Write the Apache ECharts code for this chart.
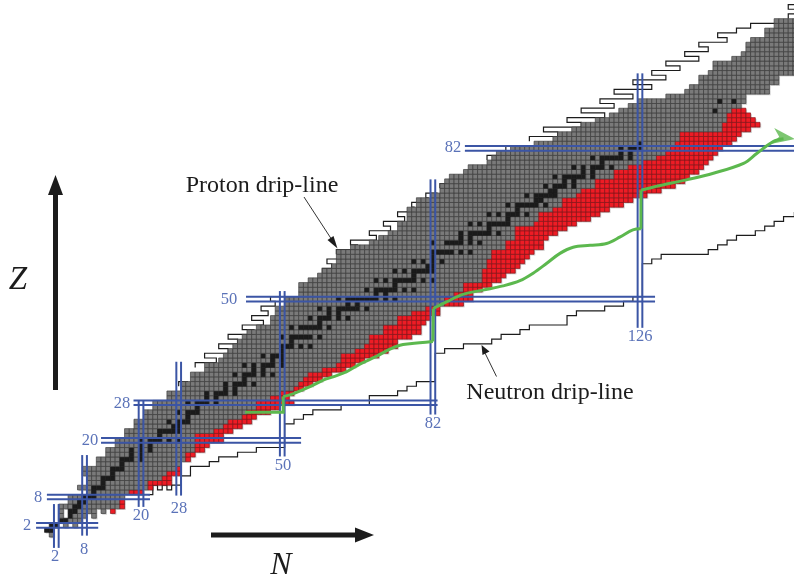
<!DOCTYPE html>
<html>
<head>
<meta charset="utf-8">
<style>html,body{margin:0;padding:0;background:#fff}#c{width:794px;height:581px}</style>
<script src="https://cdn.jsdelivr.net/npm/echarts@6/dist/echarts.min.js"></script>
</head>
<body>
<div id="c"></div>
<script>
// Each row: [Z, first N, last N, first red N (or null)]
const nuclideRows = [
[0,1,1,null],[1,0,1,null],[2,1,6,null],[3,3,7,null],[4,3,10,null],[5,3,14,14],[6,3,16,16],[7,5,16,16],[8,5,16,null],
[9,9,20,18],[10,7,22,22],[11,9,26,22],[12,9,26,25],[13,8,28,26],[14,8,28,28],[15,11,28,null],[16,11,30,30],[17,13,31,30],
[18,13,33,32],[19,15,34,32],[20,15,37,32],[21,17,37,32],[22,17,39,36],[23,19,41,38],[24,19,43,39],[25,21,44,42],
[26,21,47,43],[27,23,49,45],[28,23,52,45],[29,26,51,48],[30,26,52,50],[31,29,54,53],[32,29,56,54],[33,31,58,55],
[34,31,60,56],[35,34,63,59],[36,34,65,62],[37,37,67,63],[38,38,70,63],[39,39,72,66],[40,40,74,68],[41,41,74,69],
[42,42,77,69],[43,43,79,72],[44,45,79,72],[45,48,80,75],[46,48,81,75],[47,49,83,78],[48,49,83,81],[49,51,88,85],
[50,51,90,85],[51,54,90,87],[52,54,92,89],[53,54,94,89],[54,56,96,93],[55,58,97,93],[56,59,99,93],[57,61,100,94],
[58,62,101,94],[59,62,102,95],[60,62,103,95],[61,65,105,98],[62,69,105,98],[63,71,106,100],[64,73,108,100],[65,75,110,100],
[66,75,112,104],[67,77,115,105],[68,77,117,105],[69,77,119,108],[70,79,122,110],[71,79,124,110],[72,82,127,113],[73,84,130,114],
[74,84,133,117],[75,85,135,117],[76,86,136,121],[77,89,138,121],[78,90,139,124],[79,94,140,127],[80,95,141,130],[81,96,142,132],
[82,99,143,133],[83,104,145,134],[84,108,146,135],[85,109,147,135],[86,112,149,144],[87,114,151,144],[88,117,150,145],[89,120,149,145],
[90,122,148,146],[91,124,147,null],[92,126,148,null],[93,132,148,null],[94,136,153,null],[95,137,153,null],[96,139,155,null],[97,139,155,null],
[98,141,159,null],[99,142,159,null],[100,142,159,null],[101,146,159,null],[102,148,159,null],[103,149,159,null],[104,149,159,null],[105,150,159,null],
[106,153,159,null],[107,153,159,null],[108,155,159,null],[109,155,159,null]
];
// Cells left empty inside a row: [N, Z]
const emptyCells = [[3,2],[5,2],[4,4],[9,4],[4,5],[11,5],[13,5]];
// Stable nuclides: Z -> list of N
const stableNuclides = {
1:[0,1],2:[1,2],3:[3,4],4:[5],5:[5,6],6:[6,7],7:[7,8],8:[8,9,10],9:[10],10:[10,11,12],11:[12],12:[12,13,14],13:[14],14:[14,15,16],15:[16],
16:[16,17,18,20],17:[18,20],18:[18,20,22],19:[20,22],20:[20,22,23,24,26,28],21:[24],22:[24,25,26,27,28],23:[27,28],24:[26,28,29,30],25:[30],
26:[28,30,31,32],27:[32],28:[30,32,33,34,36],29:[34,36],30:[34,36,37,38,40],31:[38,40],32:[38,40,41,42,44],33:[42],34:[40,42,43,44,46,48],
35:[44,46],36:[42,44,46,47,48,50],37:[48,50],38:[46,48,49,50],39:[50],40:[50,51,52,54,56],41:[52],42:[50,52,53,54,55,56,58],
44:[52,54,55,56,57,58,60],45:[58],46:[56,58,59,60,62,64],47:[60,62],48:[58,60,62,63,64,65,66,68],49:[64,66],50:[62,64,65,66,67,68,69,70,72,74],
51:[70,72],52:[68,70,71,72,73,74,76,78],53:[74],54:[70,72,74,75,76,77,78,80,82],55:[78],56:[74,76,78,79,80,81,82],57:[81,82],58:[78,80,82,84],
59:[82],60:[82,83,84,85,86,88,90],62:[82,85,86,87,88,90,92],63:[88,90],64:[88,90,91,92,93,94,96],65:[94],66:[90,92,94,95,96,97,98],67:[98],
68:[94,96,98,99,100,102],69:[100],70:[98,100,101,102,103,104,106],71:[104,105],72:[102,104,105,106,107,108],73:[107,108],74:[106,108,109,110,112],
75:[110,112],76:[108,110,111,112,113,114,116],77:[114,116],78:[112,114,116,117,118,120],79:[118],80:[116,118,119,120,121,122,124],81:[122,124],
82:[122,124,125,126],83:[126],90:[142],92:[143,146]
};
// Magic numbers: [value, from, to]
const magicN = [[2,-2.8,6.5],[8,-0.2,16.9],[20,5.9,28.4],[28,8.3,36.7],[50,16.6,51.7],[82,25.5,75.4],[126,43.9,97.9]];
const magicZ = [[2,-2.3,10.9],[8,0,21.9],[20,11.5,54],[28,18.4,83],[50,42.3,129.2],[82,88.8,158.8]];
// Drip lines, as pieces of [N, Z] staircase
const protonDrip = [
[[28,31.5],[28,32.5],[30,32.5]],
[[31.5,35.5],[31.5,36.5],[36,36.5],[36,37.5],[33.5,37.5],[33.5,38.5],[38.5,38.5],[38.5,39.5],[36.5,39.5],[36.5,40.5],[40.5,40.5],[40.5,41.5],[38.5,41.5],[38.5,42.5],[44,42.5],[44,43.5],[41.5,43.5],[41.5,44.5],[46,44.5],[46,45.5],[43.5,45.5],[43.5,46.5],[47,46.5],[47,47.5],[45.5,47.5],[45.5,48.5],[48.5,48.5],[48.5,49.5],[47.5,49.5],[47.5,50.5],[51,50.5]],
[[58.5,55.5],[58.5,56.5],[60.5,56.5],[60.5,57.5],[59.5,57.5],[59.5,58.5],[62,58.5]],
[[61.5,59.5],[61.5,60.5],[66,60.5],[66,61.5],[64.5,61.5],[64.5,62.5],[70,62.5],[70,63.5],[68.5,63.5],[68.5,64.5],[73,64.5],[73,65.5],[71.5,65.5],[71.5,66.5],[76,66.5],[76,67.5],[74.5,67.5],[74.5,68.5],[78,68.5],[78,69.5],[77.5,69.5],[77.5,70.5],[81,70.5],[81,71.5],[80.5,71.5],[80.5,72.5],[83,72.5]],
[[83.5,73.5],[83.5,74.5],[85,74.5]],
[[93.5,79.5],[93.5,80.5],[96,80.5]],
[[97.5,81.5],[97.5,82.5],[99,82.5]],
[[102.5,83.5],[102.5,84.5],[108.5,84.5],[108.5,85.5],[105.5,85.5],[105.5,86.5],[113.5,86.5],[113.5,87.5],[110.5,87.5],[110.5,88.5],[118.5,88.5],[118.5,89.5],[113.5,89.5],[113.5,90.5],[120.5,90.5],[120.5,91.5],[117.5,91.5],[117.5,92.5],[124.5,92.5],[124.5,93.5],[120.5,93.5],[120.5,94.5],[128.5,94.5],[128.5,95.5],[124.5,95.5],[124.5,96.5],[131.5,96.5],[131.5,97.5],[128.5,97.5],[128.5,98.5],[134.5,98.5],[134.5,99.5],[131.5,99.5],[131.5,100.5],[138.5,100.5],[138.5,101.5],[135.5,101.5],[135.5,102.5],[140.5,102.5],[140.5,103.5],[138.5,103.5],[138.5,104.5],[144.5,104.5],[144.5,105.5],[142.5,105.5],[142.5,106.5],[146.5,106.5],[146.5,107.5],[149.5,107.5],[149.5,108.5],[155,108.5]],
[[158.8,112.5],[157.5,112.5],[157.5,111.5],[158.8,111.5]],
[[158.8,110.5],[157.5,110.5],[157.5,109.5]]
];
const neutronDrip = [
[[21.5,8.5],[22.5,8.5],[22.5,10.5],[23.5,10.5],[23.5,9.5],[24.5,9.5],[24.5,10.5],[25.5,10.5],[25.5,9.5],[26.5,9.5],[26.5,10.5],[28.5,10.5],[28.5,12.5],[30.5,12.5],[30.5,14.5],[34.5,14.5],[34.5,15.5],[36.5,15.5],[36.5,16.5],[40.5,16.5],[40.5,17.5],[44.5,17.5],[44.5,18.5],[50.5,18.5],[50.5,23.5],[52.5,23.5],[52.5,24.5],[54.5,24.5],[54.5,25.5],[56.5,25.5],[56.5,26.5],[62.5,26.5],[62.5,27.5],[68.5,27.5],[68.5,29.5],[74.5,29.5],[74.5,30.5],[76.5,30.5],[76.5,31.5],[78.5,31.5],[78.5,32.5],[82.5,32.5],[82.5,38.5],[84.5,38.5],[84.5,39.5],[88.5,39.5],[88.5,40.5],[94.5,40.5],[94.5,41.5],[96.5,41.5],[96.5,42.5],[100.5,42.5],[100.5,43.5],[102.5,43.5],[102.5,44.5],[110.5,44.5],[110.5,46.5],[112.5,46.5],[112.5,47.5],[118.5,47.5],[118.5,48.5],[122.5,48.5],[122.5,49.5],[124.5,49.5],[124.5,50.5],[126.5,50.5],[126.5,57.5],[128.5,57.5],[128.5,58.5],[130.5,58.5],[130.5,59.5],[140.5,59.5],[140.5,60.5],[142.5,60.5],[142.5,61.5],[144.5,61.5],[144.5,62.5],[146.5,62.5],[146.5,63.5],[150.5,63.5],[150.5,64.5],[152.5,64.5],[152.5,65.5],[154.5,65.5],[154.5,66.5],[156.5,66.5],[156.5,67.5],[158.8,67.5],[158.8,68.5]]
];
// r-process path: straight runs and curved runs
const rProcessStraight = [
[[42.1,26],[50.2,26],[50.2,29.3]],
[[82,41],[82.1,48]],
[[126.2,64.9],[126.2,73.1]]
];
const rProcessCurved = [
[[50.2,29.3],[52.3,29.9],[55.9,31.4],[58.7,32.8],[60.8,33.5],[63.7,34.6],[66.5,36.2],[70.1,37.9],[72.9,39.4],[75,40.2],[77.1,40.5],[82,41]],
[[82.1,48],[84.9,49.4],[88.4,51],[92.6,51.9],[96.9,52.8],[100.5,53.9],[103.3,55.5],[106.2,57.6],[109,59.7],[111.8,61],[115.4,61.4],[118.9,61.8],[121.8,63.2],[124.5,64.7],[126.2,64.9]],
[[126.2,73.1],[130.3,74.1],[135.9,75.3],[141.6,76.7],[148,78.8],[150.8,80.9],[154.3,83.4],[156.5,84]]
];
const rProcessTip = [[156.6,84.3]];

// Build the table of cells from the arrays above
const empty = new Set(emptyCells.map(c => c.join(',')));
const cells = [];
nuclideRows.forEach(([z, a, b, red]) => {
  for (let n = a; n <= b; n++) {
    if (empty.has(n + ',' + z)) continue;
    const stable = (stableNuclides[z] || []).includes(n);
    cells.push([n, z, stable ? 2 : (red !== null && n >= red ? 1 : 0)]);
  }
});
const fills = ['#7a7a7a', '#ee1c25', '#1b1b1b'];
const strokes = ['#3e3e3e', '#851418', '#1b1b1b'];

const blue = '#3b55a5';
const green = '#5cb84e';
function segSeries(piece, color, width, z, smooth) {
  return {type:'line', data:piece, symbol:'none', silent:true, animation:false, z:z, clip:true, smooth:smooth||false,
          lineStyle:{color:color, width:width, cap:'butt', join:'miter'}};
}
const series = [];
// soft halo on the lower right of the cells
series.push({
  type:'custom', data:cells, z:0, silent:true, animation:false, progressive:0,
  encode:{x:0,y:1},
  renderItem(params, api){
    const n = api.value(0), z = api.value(1);
    const p = api.coord([n-0.5, z+0.5]), q = api.coord([n+0.5, z-0.5]);
    return {type:'rect', shape:{x:p[0]+1.2, y:p[1]+1.2, width:q[0]-p[0], height:q[1]-p[1]},
            style:{fill:'#cfcfcf'}};
  }
});
protonDrip.concat(neutronDrip).forEach(p => series.push(segSeries(p, '#1c1c1c', 1.2, 1)));
series.push({
  type:'custom', data:cells, z:2, silent:true, animation:false, progressive:0,
  encode:{x:0,y:1},
  renderItem(params, api){
    const n = api.value(0), z = api.value(1), k = api.value(2);
    const p = api.coord([n-0.5, z+0.5]), q = api.coord([n+0.5, z-0.5]);
    return {type:'rect', shape:{x:p[0], y:p[1], width:q[0]-p[0], height:q[1]-p[1]},
            style:{fill:fills[k], stroke:strokes[k], lineWidth:0.7}};
  }
});
magicN.forEach(([v,a,b]) => [-0.5,0.5].forEach(d => series.push(segSeries([[v+d,a],[v+d,b]], blue, 2, 3))));
magicZ.forEach(([v,a,b]) => [-0.5,0.5].forEach(d => series.push(segSeries([[a,v+d],[b,v+d]], blue, 2, 3))));
rProcessStraight.forEach(p => series.push(segSeries(p, green, 3, 4)));
rProcessCurved.forEach(p => series.push(segSeries(p, green, 3, 4, 0.35)));
series.push({type:'scatter', data:rProcessTip, z:5, silent:true, animation:false, clip:false,
  symbol:'path://M0 0 L10 16 L0 32 L36 16 Z', symbolSize:[22,16], symbolRotate:-8,
  itemStyle:{color:green}});

const serif = '"Liberation Serif", "Times New Roman", serif';
const numColor = '#5a72b8';
const tickLabelsN = ['2','8','20','28','50','82','126'];
const tickLabelsZ = ['2','8','20','28','50','82'];
const tickPosN = [[55,557],[84,550],[141,516],[179,509],[283,466],[433,424],[640,337]];
const tickPosZ = [[27,526],[38,498],[90,441],[122,404],[229,300],[453,148]];
const graphics = [];
function txt(s,x,y,size,color,style){
  graphics.push({type:'text', x:x, y:y, z:20, silent:true,
    style:{text:s, fill:color, font:(style||'')+' '+size+'px '+serif, align:'center', verticalAlign:'middle'}});
}
tickLabelsN.forEach((s,i)=>txt(s,tickPosN[i][0],tickPosN[i][1],16.5,numColor));
tickLabelsZ.forEach((s,i)=>txt(s,tickPosZ[i][0],tickPosZ[i][1],16.5,numColor));
txt('Proton drip-line',262,186,24,'#1c1c1c');
txt('Neutron drip-line',550,393,24,'#1c1c1c');
txt('Z',18,280,33,'#1c1c1c','italic');
txt('N',281,566,32,'#1c1c1c','italic');
function seg(x1,y1,x2,y2,w){graphics.push({type:'line',z:20,silent:true,shape:{x1,y1,x2,y2},style:{stroke:'#1c1c1c',lineWidth:w}});}
function tri(points){graphics.push({type:'polygon',z:20,silent:true,shape:{points},style:{fill:'#1c1c1c'}});}
seg(55.5,390,55.5,192,5); tri([[48,195],[55.5,175],[63,195]]);
seg(211,535,358,535,5); tri([[355,527.5],[374,535],[355,542.5]]);
seg(304,197,332,240,0.9); tri([[337.5,248.5],[327.5,240],[333.5,236]]);
seg(496.5,376.5,484,351,0.9); tri([[481.5,345],[489.5,351.5],[482.5,355]]);

const chart = echarts.init(document.getElementById('c'), null, {renderer:'canvas'});
chart.setOption({
  animation:false,
  backgroundColor:'#ffffff',
  grid:{left:0,right:0,top:0,bottom:0,containLabel:false},
  xAxis:{type:'value',min:-9.964,max:158.72,show:false},
  yAxis:{type:'value',min:-9.825,max:113.465,show:false},
  series:series,
  graphic:graphics
});
</script>
</body>
</html>
